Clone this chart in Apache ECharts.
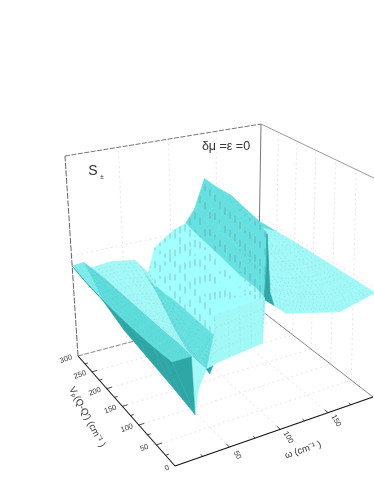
<!DOCTYPE html>
<html><head><meta charset="utf-8">
<style>html,body{margin:0;padding:0;background:#fff}#c{width:374px;height:484px}</style>
<script src="https://cdn.jsdelivr.net/npm/echarts@6/dist/echarts.min.js"></script>
</head><body><div id="c"></div>
<script>
// ---- data (omega in cm-1, V in cm-1, height normalised 0..1)
var vRows = [300, 250, 200, 150, 100, 50, 25, 0];
var omegaTicks = [0, 50, 100, 150];
var vTicks = [0, 50, 100, 150, 200, 250, 300];
var skirtOmega = [0,0,0,5,10,15,17,19];
var skirtZ = [.45,.43,.42,.34,.286,.234,.21,.185];
var edgeOmega = [0,0,0,0,0,0,0,0];
var edgeZ = [.45,.43,.42,.415,.415,.42,.425,.43];
var creaseOmega = [11,5.5,0,0,0,0,0,0];
var creaseZ = [.455,.44,.42,.415,.415,.42,.425,.43];
var shelfOmega = [11,12,13,14,15,16,16.5,17];
var shelfZ = [.455,.44,.44,.44,.44,.44,.44,.43];
var dipOmega = [18,17.5,17.5,17.5,17.5,17.5,17.5,17.5];
var dipZ = [.42,.43,.43,.43,.43,.43,.43,.43];
var humpOmega = [38,34,31,27.5,24.5,21,20,18];
var humpZ = [.43,.43,.43,.42,.415,.42,.425,.43];
var crestOmega = [62,55.5,49.5,43,35,26.5,22,18];
var crestZ = [.41,.416,.41,.39,.384,.40,.41,.43];
var valleyOmega = [75,67,59,51,44,37,33,30];
var valleyZ = [.33,.33,.33,.33,.34,.35,.355,.36];
var bandOmega = [76,67.5,61,55.5,52,55,46,30];
var bandZ = [.34,.335,.37,.406,.42,.40,.45,.36];
var riseOmega = [82.5,79.5,75,67,60,57,48.5,41];
var riseZ = [.45,.48,.50,.51,.52,.52,.53,.375];
var shoulderOmega = [102.5,98.5,94.5,90.5,86.5,89.5,92.5,82.5];
var shoulderZ = [.52,.52,.53,.535,.54,.55,.55,.40];
var wallBaseOmega = [116,111.5,107.5,103.5,99.5,96,94.5,85.5];
var wallBaseZ = [.545,.545,.548,.55,.55,.56,.553,.58];
var wallMidOmega = [126,122,116,110,103.5,98.5,96.5,86.5];
var wallMidZ = [.61,.61,.62,.64,.65,.65,.65,.58];
var ridgeOmega = [137,129,121.5,114,106.5,100.5,97.5,90];
var ridgeZ = [.76,.78,.78,.81,.82,.84,.83,.565];
var fallOmega = [151,140.5,131,123,115,106.5,100,94];
var fallZ = [.70,.62,.58,.55,.55,.55,.57,.55];
var plateauAOmega = [167.5,162,156.5,151,146,140.5,120,106];
var plateauAZ = [.64,.58,.53,.51,.5,.49,.52,.50];
var plateauBOmega = [180.5,178.5,176,174,172,170,169,161];
var plateauBZ = [.57,.52,.50,.49,.48,.47,.45,.44];
var plateauCOmega = [200,200,200,200,200,200,200,200];
var plateauCZ = [.47,.475,.48,.48,.48,.48,.48,.48];
// small faces on the V = 0 edge: the cliff end, the pale sliver beside it and the notch
var capOmega = [0,17,19];
var capZ = [.43,.43,.185];
var sliverOmega = [19,17.5,30,22.5];
var sliverZ = [.185,.43,.36,.286];
var notchOmega = [30,36,33];
var notchZ = [.36,.365,.335];

var lines = [
  [skirtOmega,skirtZ],[edgeOmega,edgeZ],[creaseOmega,creaseZ],[shelfOmega,shelfZ],[dipOmega,dipZ],
  [humpOmega,humpZ],[crestOmega,crestZ],[valleyOmega,valleyZ],[bandOmega,bandZ],[riseOmega,riseZ],
  [shoulderOmega,shoulderZ],[wallBaseOmega,wallBaseZ],[wallMidOmega,wallMidZ],[ridgeOmega,ridgeZ],
  [fallOmega,fallZ],[plateauAOmega,plateauAZ],[plateauBOmega,plateauBZ],[plateauCOmega,plateauCZ]
];
var DARK='#2fa7a7', MED='#66e0e0', BRIGHT='#a0ffff', PALE='#a2f7f7', LIGHT='#80ecec', SHELF='#5edcdc';
var stripColors = [DARK,LIGHT,SHELF,SHELF,PALE,PALE,MED,MED,BRIGHT,BRIGHT,BRIGHT,MED,MED,MED,PALE,PALE,PALE];
var frontColors = [DARK,LIGHT,SHELF,SHELF,PALE,PALE,MED,MED,PALE,PALE,PALE,DARK,DARK,DARK,PALE,PALE,PALE];
// how many rows from the back of each strip still read as the ridge face
var ridgeFaceRows = {14:2,15:1,16:1};
// the first row of the hump's far slope and the valley stay bright
var backBrightRows = {6:1,7:1};
var dashedStrips = [8,9,10,11,12,13];

// ---- oblique perspective box: corners of the floor and the ceiling
var floorQ = [[175,466],[373,397],[258,308],[78,356]];
var topQ   = [[168,225],[378,180],[261,124],[65,156]];
function quadMap(q){
  var x0=q[0][0],y0=q[0][1],x1=q[1][0],y1=q[1][1],x2=q[2][0],y2=q[2][1],x3=q[3][0],y3=q[3][1];
  var dx1=x1-x2,dx2=x3-x2,sx=x0-x1+x2-x3,dy1=y1-y2,dy2=y3-y2,sy=y0-y1+y2-y3;
  var d=dx1*dy2-dx2*dy1,g=(sx*dy2-dx2*sy)/d,h=(dx1*sy-sx*dy1)/d;
  var a=x1-x0+g*x1,b=x3-x0+h*x3,c=x0,e=y1-y0+g*y1,f=y3-y0+h*y3,k=y0;
  return function(u,v){var w=g*u+h*v+1;return [(a*u+b*v+c)/w,(e*u+f*v+k)/w];};
}
var mapFloor=quadMap(floorQ), mapTop=quadMap(topQ);
function project(om,v,z){
  var u=om/200,t=v/300,p=mapFloor(u,t),q=mapTop(u,t);
  return [p[0]+(q[0]-p[0])*z,p[1]+(q[1]-p[1])*z];
}
function pt(r,s){return [lines[s][0][r],vRows[r],lines[s][1][r]];}
function mix(a,b,f){return [a[0]+(b[0]-a[0])*f,a[1]+(b[1]-a[1])*f,a[2]+(b[2]-a[2])*f];}

var cells=[];
for(var r=0;r<vRows.length-1;r++){for(var s=lines.length-2;s>=0;s--){cells.push([r,s]);}}

function verticalDashes(P,step,out){
  var xs=P.map(function(p){return p[0];});
  var x0=Math.ceil(Math.min.apply(null,xs)/step)*step,x1=Math.max.apply(null,xs);
  for(var X=x0;X<=x1;X+=step){
    var ys=[];
    for(var i=0;i<P.length;i++){
      var a=P[i],b=P[(i+1)%P.length];
      if((a[0]<=X&&b[0]>X)||(b[0]<=X&&a[0]>X)){ys.push(a[1]+(b[1]-a[1])*(X-a[0])/(b[0]-a[0]));}
    }
    if(ys.length>=2){
      out.push({type:'line',shape:{x1:X,y1:Math.min.apply(null,ys),x2:X,y2:Math.max.apply(null,ys)},
        style:{stroke:'rgba(110,135,135,0.5)',lineWidth:1,lineDash:[7,11],lineDashOffset:(X*7)%18,fill:null}});
    }
  }
}
function renderCell(params,api){
  var r=api.value(0),s=api.value(1);
  function C(p){return api.coord(project(p[0],p[1],p[2]));}
  var a=pt(r,s),b=pt(r,s+1),c=pt(r+1,s+1),d=pt(r+1,s);
  var front=r===vRows.length-2;
  var col=(front?frontColors:stripColors)[s];
  if(!front&&ridgeFaceRows[s]>r){col=MED;}
  if(backBrightRows[s]>r){col=PALE;}
  var P=[C(a),C(b),C(c),C(d)];
  var kids=[{type:'polygon',shape:{points:P},style:{fill:col,stroke:col,lineWidth:0.6}}];
  if(dashedStrips.indexOf(s)>=0&&!front){
    verticalDashes(P,5,kids);
  }else{
    var k=3;
    for(var i=1;i<=k;i++){
      var f=i/(k+1),A=C(mix(a,d,f)),B=C(mix(b,c,f)),A2=C(mix(a,b,f)),B2=C(mix(d,c,f));
      kids.push({type:'line',shape:{x1:A[0],y1:A[1],x2:B[0],y2:B[1]},style:{stroke:'rgba(85,125,125,0.24)',lineWidth:0.6,lineDash:[1,3],fill:null}});
      kids.push({type:'line',shape:{x1:A2[0],y1:A2[1],x2:B2[0],y2:B2[1]},style:{stroke:'rgba(85,125,125,0.24)',lineWidth:0.6,lineDash:[1,3],fill:null}});
    }
  }
  return {type:'group',children:kids};
}
function seg(api,p,q,stroke,w,dash){
  var A=api.coord(p),B=api.coord(q);
  return {type:'line',shape:{x1:A[0],y1:A[1],x2:B[0],y2:B[1]},style:{stroke:stroke,lineWidth:w,lineDash:dash||null,fill:null}};
}
function renderBack(params,api){
  var G='#e6e6e6',kids=[],d=[2,3];
  [50,100,150].forEach(function(o){
    kids.push(seg(api,project(o,300,0),project(o,300,1),G,1,d));
    kids.push(seg(api,project(o,0,0),project(o,300,0),G,1,d));
  });
  [50,100,150,200,250].forEach(function(v){
    kids.push(seg(api,project(200,v,0),project(200,v,1),G,1,d));
    kids.push(seg(api,project(0,v,0),project(200,v,0),G,1,d));
  });
  kids.push(seg(api,project(0,300,.5),project(200,300,.5),G,1,d));
  kids.push(seg(api,project(200,300,.5),project(200,0,.5),G,1,d));
  kids.push(seg(api,project(0,300,1),project(200,300,1),'#777',1,[5,1.5]));
  kids.push(seg(api,project(200,300,1),project(200,0,1),'#999',1));
  kids.push(seg(api,project(0,300,0),project(0,300,1),'#666',1,[6,1.5]));
  kids.push(seg(api,project(200,300,0),project(200,300,1),'#777',1));
  kids.push(seg(api,project(0,300,0),project(200,300,0),'#888',1,[5,1.5]));
  kids.push(seg(api,project(200,300,0),project(200,0,0),'#888',1));
  return {type:'group',children:kids};
}
function label(api,p,dx,dy,txt,rot,font){
  var A=api.coord(p);
  return {type:'text',x:A[0]+dx,y:A[1]+dy,rotation:rot,style:{text:txt,font:font||'7.5px "Liberation Sans"',fill:'#333',align:'center',verticalAlign:'middle'}};
}
function face(api,oms,zs,col){
  var P=oms.map(function(o,i){return api.coord(project(o,0,zs[i]));});
  return {type:'polygon',shape:{points:P},style:{fill:col,stroke:col,lineWidth:0.5}};
}
function renderFront(params,api){
  var kids=[];
  kids.push(face(api,sliverOmega,sliverZ,PALE));
  kids.push(face(api,notchOmega,notchZ,DARK));
  kids.push(face(api,capOmega,capZ,DARK));
  kids.push(seg(api,project(0,0,0),project(0,300,0),'#111',1.1));
  kids.push(seg(api,project(0,0,0),project(200,0,0),'#111',1.1));
  for(var v=25;v<300;v+=25){kids.push(seg(api,project(0,v,0),project(v%50===0?5:3,v,0),'#222',0.8));}
  for(var o=25;o<200;o+=25){kids.push(seg(api,project(o,0,0),project(o,o%50===0?8:5,0),'#222',0.8));}
  vTicks.forEach(function(v){kids.push(label(api,project(0,v,0),v===0?-8:-12,v===0?2:3,String(v),0.36));});
  omegaTicks.forEach(function(o){ if(o>0) kids.push(label(api,project(o,0,0),8,8,String(o),-1.05));});
  kids.push(label(api,[303,450],0,0,'ω (cm⁻¹ )',0.33,'9.5px "Liberation Sans"'));
  kids.push(label(api,[87,417],0,0,"Vₚ(Q-Q′) (cm⁻¹ )",-1.08,'9.5px "Liberation Sans"'));
  kids.push(label(api,[93,171],0,0,'S',0,'14px "Liberation Sans"'));
  kids.push(label(api,[102,177],0,0,'±',0,'7px "Liberation Sans"'));
  kids.push(label(api,[226,147],0,0,'δμ =ε =0',0,'12.5px "Liberation Sans"'));
  return {type:'group',children:kids};
}
var chart=echarts.init(document.getElementById('c'),null,{renderer:'canvas'});
chart.setOption({
  animation:false,
  backgroundColor:'#fff',
  grid:{left:0,right:0,top:0,bottom:0},
  xAxis:{type:'value',min:0,max:374,show:false},
  yAxis:{type:'value',min:0,max:484,inverse:true,show:false},
  tooltip:{show:false},
  series:[
    {type:'custom',coordinateSystem:'cartesian2d',z:1,silent:true,clip:false,renderItem:renderBack,data:[[0,0]]},
    {type:'custom',coordinateSystem:'cartesian2d',z:2,silent:true,clip:false,renderItem:renderCell,data:cells,progressive:0},
    {type:'custom',coordinateSystem:'cartesian2d',z:3,silent:true,clip:false,renderItem:renderFront,data:[[0,0]]}
  ]
});
</script></body></html>
